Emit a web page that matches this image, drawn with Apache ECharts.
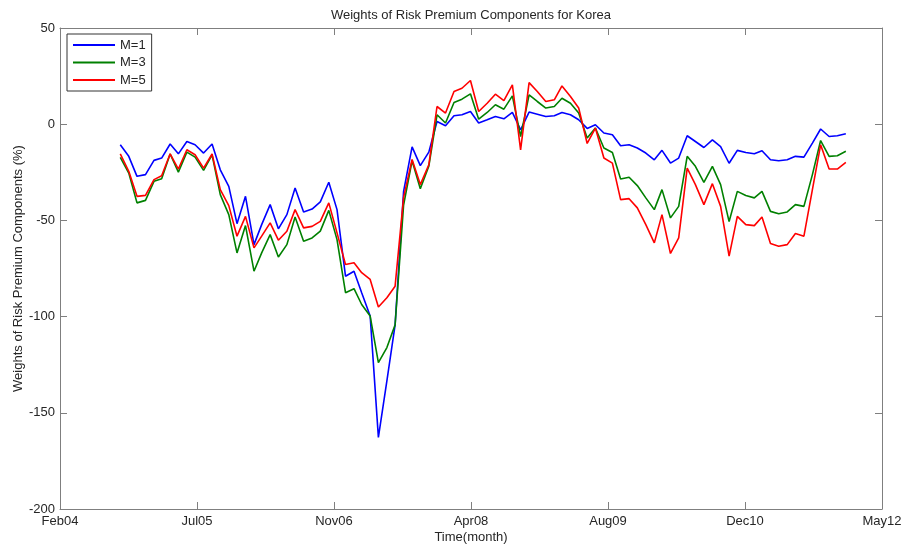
<!DOCTYPE html>
<html>
<head>
<meta charset="utf-8">
<script src="https://cdn.jsdelivr.net/npm/echarts@6/dist/echarts.min.js"></script>
<style>
html,body{margin:0;padding:0;background:#fff;}
#chart{width:906px;height:550px;}
</style>
</head>
<body>
<div id="chart"></div>
<script>
// Monthly observations, Sep 2004 .. Dec 2011 (month-end dates)
var startYear = 2004, startMonth = 9, nMonths = 88;
// x axis: days since 23 Feb 2004 (MATLAB datenum 732000), ticks every 500 days
var tickLabels = ['Feb04','Jul05','Nov06','Apr08','Aug09','Dec10','May12'];
var axisStart = Date.UTC(2004, 1, 23);

var m1 = [-10.7,-16.7,-27.1,-26.2,-18.8,-17.6,-10.3,-15.4,-9.0,-10.7,-15.0,-10.3,-23.7,-32.3,-51.7,-37.5,-62.6,-52.2,-41.8,-54.4,-47.0,-33.2,-45.6,-44.1,-40.4,-30.2,-44.4,-79.0,-76.4,-87.6,-99.7,-162.8,-133.4,-104.3,-34.9,-11.8,-21.5,-14.5,1.4,-0.8,4.4,4.9,6.6,0.6,2.3,4.0,2.8,6.1,-2.9,6.3,5.2,4.0,4.4,6.1,4.9,2.3,-2.2,-0.3,-4.6,-5.5,-11.2,-10.7,-12.4,-15.0,-18.5,-13.6,-20.2,-17.6,-6.0,-9.0,-12.1,-8.1,-11.6,-20.3,-13.6,-14.7,-15.4,-13.8,-18.5,-19.0,-18.5,-16.7,-17.1,-9.8,-2.5,-6.4,-6.0,-5.0];
var m3 = [-17.3,-25.4,-40.9,-39.6,-29.7,-28.3,-15.5,-24.9,-14.5,-17.1,-24.0,-15.9,-36.6,-47.0,-66.9,-52.7,-76.4,-66.9,-57.4,-69.0,-62.6,-48.2,-60.8,-59.1,-55.6,-44.8,-60.0,-87.6,-85.5,-93.7,-99.7,-123.9,-116.1,-104.3,-42.0,-19.0,-33.5,-21.9,4.9,0.6,11.3,13.0,15.8,2.6,6.1,10.1,7.8,14.7,-6.4,15.2,11.8,8.4,9.2,13.5,10.9,5.8,-7.2,-2.0,-12.4,-14.7,-28.5,-27.6,-31.9,-38.3,-44.4,-34.0,-48.7,-42.7,-16.7,-21.9,-30.2,-21.9,-31.4,-50.6,-34.9,-37.1,-38.3,-34.9,-45.3,-46.5,-45.6,-41.8,-42.7,-26.2,-8.5,-16.7,-16.4,-14.1];
var m5 = [-15.4,-24.5,-37.5,-37.0,-28.8,-26.8,-15.4,-23.3,-13.3,-15.9,-22.8,-15.5,-34.0,-42.3,-58.2,-47.9,-64.3,-58.2,-51.3,-60.3,-55.6,-44.4,-53.9,-53.1,-50.5,-40.9,-56.5,-72.9,-72.0,-77.2,-80.7,-95.0,-90.2,-84.2,-38.0,-18.3,-31.4,-21.1,9.2,5.8,17.0,18.7,22.7,6.6,10.9,15.6,12.3,20.4,-13.3,21.6,17.0,11.8,12.7,19.9,14.4,8.4,-10.0,-2.0,-17.6,-20.2,-39.2,-38.7,-43.5,-52.2,-61.7,-47.0,-67.2,-59.1,-22.8,-31.4,-41.8,-30.9,-42.7,-68.6,-47.9,-52.2,-52.7,-48.2,-62.0,-63.4,-62.6,-56.8,-58.2,-34.0,-10.7,-23.3,-23.3,-19.9];

function dayOf(k) {
  var y = startYear, m = startMonth - 1 + k;
  return (Date.UTC(y, m + 1, 0) - axisStart) / 86400000;
}
function pairs(arr) {
  return arr.map(function (v, k) { return [dayOf(k), v]; });
}

var FONT = 'Liberation Sans, Arial, Helvetica, sans-serif';
var AXC = '#7f7f7f';
var TXC = '#262626';

var chart = echarts.init(document.getElementById('chart'), null, {renderer: 'canvas'});
var xCommon = {
  type: 'value', min: 0, max: 3000, interval: 500,
  axisLine: {show: true, onZero: false, lineStyle: {color: AXC, width: 1}},
  axisTick: {show: true, inside: true, length: 7, lineStyle: {color: AXC}},
  splitLine: {show: false}
};
var yCommon = {
  type: 'value', min: -200, max: 50, interval: 50,
  axisLine: {show: true, onZero: false, lineStyle: {color: AXC, width: 1}},
  axisTick: {show: true, inside: true, length: 7, lineStyle: {color: AXC}},
  splitLine: {show: false}
};

chart.setOption({
  animation: false,
  backgroundColor: '#fff',
  grid: {left: 60, right: 24, top: 28, bottom: 41, containLabel: false},
  graphic: [{
    type: 'text', x: 471, y: 15,
    style: {text: 'Weights of Risk Premium Components for Korea', font: '13px ' + FONT,
      fill: TXC, textAlign: 'center', textVerticalAlign: 'middle'}
  }],
  legend: {
    orient: 'vertical', left: 67, top: 34,
    icon: 'rect',
    itemWidth: 42, itemHeight: 1.8, itemGap: 3.5,
    padding: [4, 6, 4, 6],
    backgroundColor: '#fff', borderColor: '#333', borderWidth: 1, borderRadius: 0,
    textStyle: {fontFamily: FONT, fontSize: 13, color: TXC, lineHeight: 14},
    data: ['M=1', 'M=3', 'M=5']
  },
  xAxis: [
    Object.assign({}, xCommon, {
      position: 'bottom',
      name: 'Time(month)', nameLocation: 'middle', nameGap: 22, nameMoveOverlap: false,
      nameTextStyle: {fontFamily: FONT, fontSize: 13, color: TXC},
      axisLabel: {show: true, margin: 6, fontFamily: FONT, fontSize: 13, color: TXC,
        formatter: function (v) { return tickLabels[Math.round(v / 500)] || ''; }}
    }),
    Object.assign({}, xCommon, {position: 'top', axisLabel: {show: false}})
  ],
  yAxis: [
    Object.assign({}, yCommon, {
      position: 'left',
      name: 'Weights of Risk Premium Components (%)', nameLocation: 'middle', nameGap: 35,
      nameMoveOverlap: false,
      nameTextStyle: {fontFamily: FONT, fontSize: 13, color: TXC},
      axisLabel: {show: true, margin: 5, fontFamily: FONT, fontSize: 13, color: TXC}
    }),
    Object.assign({}, yCommon, {position: 'right', axisLabel: {show: false}})
  ],
  series: [
    {name: 'M=1', type: 'line', data: pairs(m1), symbol: 'none', color: '#0000ff',
      lineStyle: {width: 1.6, color: '#0000ff'}, xAxisIndex: 0, yAxisIndex: 0},
    {name: 'M=3', type: 'line', data: pairs(m3), symbol: 'none', color: '#008000',
      lineStyle: {width: 1.6, color: '#008000'}, xAxisIndex: 0, yAxisIndex: 0},
    {name: 'M=5', type: 'line', data: pairs(m5), symbol: 'none', color: '#ff0000',
      lineStyle: {width: 1.6, color: '#ff0000'}, xAxisIndex: 0, yAxisIndex: 0}
  ]
});
</script>
</body>
</html>
